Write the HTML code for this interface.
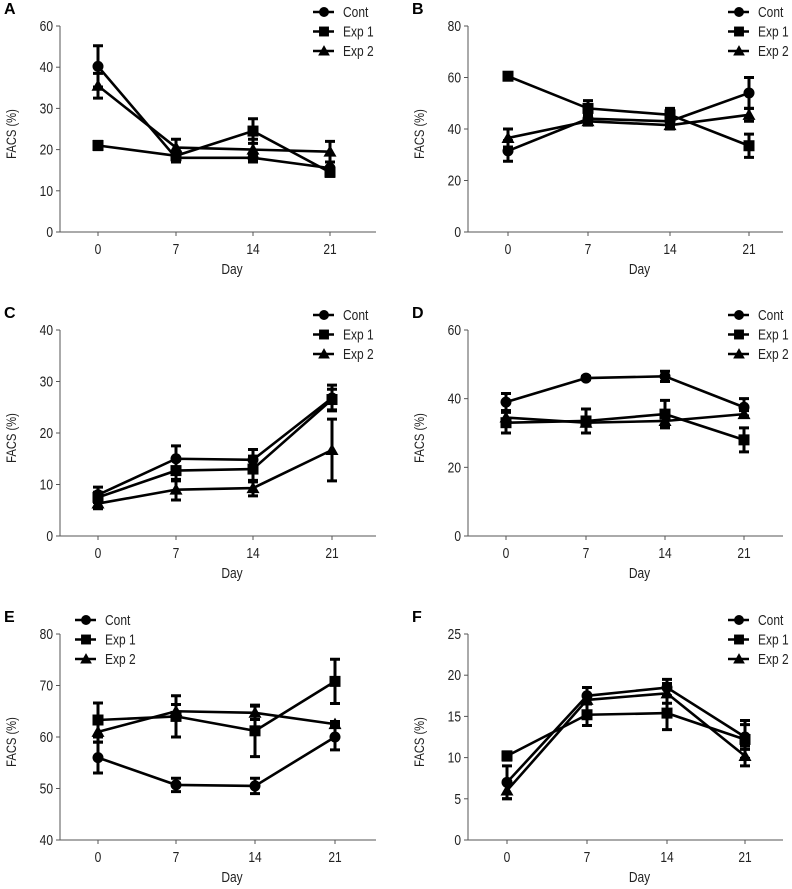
<!DOCTYPE html>
<html><head><meta charset="utf-8">
<style>
html,body{margin:0;padding:0;background:#fff;}
svg{display:block;font-family:"Liberation Sans",sans-serif;}
</style></head>
<body>
<svg id="fig" width="792" height="889" viewBox="0 0 792 889" xmlns="http://www.w3.org/2000/svg"></svg>
<script>
const days = ["0","7","14","21"];
const seriesNames = ["Cont","Exp 1","Exp 2"];

const aCont = [40.2,18,18,15.5], aContErr = [5,1,1,1.5];
const aExp1 = [21,18.5,24.5,14.5], aExp1Err = [1,1,3,1];
const aExp2 = [35.5,20.5,20,19.5], aExp2Err = [3,2,2.5,2.5];

const bCont = [31.5,44,43,54], bContErr = [4,2,2,6];
const bExp1 = [60.5,48,45.5,33.5], bExp1Err = [0.5,3,2.5,4.5];
const bExp2 = [36.5,43,41.5,45.5], bExp2Err = [3.5,1.5,1.5,2.5];

const cCont = [8,15,14.8,26.8], cContErr = [1.5,2.5,2,2.5];
const cExp1 = [7.5,12.7,13,26.5], cExp1Err = [1,2,2.5,2];
const cExp2 = [6.3,9,9.3,16.7], cExp2Err = [1,2,1.5,6];

const dCont = [39,46,46.5,37.5], dContErr = [2.5,0.5,1.5,2.5];
const dExp1 = [33,33.5,35.5,28], dExp1Err = [3,3.5,4,3.5];
const dExp2 = [34.5,33,33.5,35.5], dExp2Err = [2,1,1.5,1];

const eCont = [56,50.7,50.5,60], eContErr = [3,1.3,1.5,2.5];
const eExp1 = [63.3,64,61.2,70.8], eExp1Err = [3.3,4,5,4.3];
const eExp2 = [61,65,64.7,62.5], eExp2Err = [2,1.3,1.3,0.5];

const fCont = [7,17.5,18.5,12.5], fContErr = [2,1,1,1.5];
const fExp1 = [10.2,15.2,15.4,12.2], fExp1Err = [0.5,1.3,2,2.3];
const fExp2 = [6,17,17.8,10.2], fExp2Err = [1,1.5,1.2,1.2];

const yTicksA = [0,10,20,30,40,50];
const yTickLabelsA = ["0","10","20","30","40","60"];
const yTicksB = [0,20,40,60,80];
const yTicksC = [0,10,20,30,40];
const yTicksD = [0,20,40,60];
const yTicksE = [40,50,60,70,80];
const yTicksF = [0,5,10,15,20,25];

const NS = "http://www.w3.org/2000/svg";
const svg = document.getElementById('fig');
function mk(tag, attrs, parent){
  const e = document.createElementNS(NS, tag);
  for (const k in attrs) e.setAttribute(k, attrs[k]);
  (parent||svg).appendChild(e);
  return e;
}
function txt(parent, x, y, s, size, anchor, rot){
  const t = mk('text',{x:0,y:0,'font-size':size,'text-anchor':anchor||'start',fill:'#222',
    transform:`translate(${x},${y})${rot?' rotate(-90)':''} scale(0.8,1)`},parent);
  t.textContent = s;
  return t;
}

const panels = [
 {id:"a",label:"A",ax:60,top:26,bot:232,right:376,xs:[98,176,253,330],ymin:0,ymax:50,ticks:yTicksA,tlabels:yTickLabelsA,
  data:[[aCont,aContErr],[aExp1,aExp1Err],[aExp2,aExp2Err]],leg:{x:313,y:12}},
 {id:"b",label:"B",ax:468,top:26,bot:232,right:783,xs:[508,588,670,749],ymin:0,ymax:80,ticks:yTicksB,
  data:[[bCont,bContErr],[bExp1,bExp1Err],[bExp2,bExp2Err]],leg:{x:728,y:12}},
 {id:"c",label:"C",ax:60,top:330,bot:536,right:376,xs:[98,176,253,332],ymin:0,ymax:40,ticks:yTicksC,
  data:[[cCont,cContErr],[cExp1,cExp1Err],[cExp2,cExp2Err]],leg:{x:313,y:315}},
 {id:"d",label:"D",ax:468,top:330,bot:536,right:783,xs:[506,586,665,744],ymin:0,ymax:60,ticks:yTicksD,
  data:[[dCont,dContErr],[dExp1,dExp1Err],[dExp2,dExp2Err]],leg:{x:728,y:315}},
 {id:"e",label:"E",ax:60,top:634,bot:840,right:376,xs:[98,176,255,335],ymin:40,ymax:80,ticks:yTicksE,
  data:[[eCont,eContErr],[eExp1,eExp1Err],[eExp2,eExp2Err]],leg:{x:75,y:620}},
 {id:"f",label:"F",ax:468,top:634,bot:840,right:783,xs:[507,587,667,745],ymin:0,ymax:25,ticks:yTicksF,
  data:[[fCont,fContErr],[fExp1,fExp1Err],[fExp2,fExp2Err]],leg:{x:728,y:620}}
];

function marker(g, kind, x, y, s){
  let m;
  if (kind===0) m = mk('circle',{cx:x,cy:y,r:s*0.55,fill:'#000'},g);
  else if (kind===1) m = mk('rect',{x:x-s*0.55,y:y-s*0.55,width:s*1.1,height:s*1.1,fill:'#000'},g);
  else m = mk('polygon',{points:`${x},${y-s*0.65} ${x+s*0.65},${y+s*0.5} ${x-s*0.65},${y+s*0.5}`,fill:'#000'},g);
  return m;
}

panels.forEach(p=>{
  const g = mk('g',{});
  
  
  const ys = v => p.bot - (v-p.ymin)/(p.ymax-p.ymin)*(p.bot-p.top);
  const lab = mk('text',{x:p.ax-56,y:p.top-12,'font-size':16,'font-weight':'bold'},g);
  lab.textContent = p.label;
  
  
  const ya = mk('line',{x1:p.ax,y1:p.top,x2:p.ax,y2:p.bot,stroke:'#555','stroke-width':1},g);
  
  
  const xa = mk('line',{x1:p.ax,y1:p.bot,x2:p.right,y2:p.bot,stroke:'#555','stroke-width':1},g);
  
  
  p.ticks.forEach((t,i)=>{
    const y = ys(t);
    mk('line',{x1:p.ax-4,y1:y,x2:p.ax,y2:y,stroke:'#555','stroke-width':1},g);
    const tt = txt(g, p.ax-7, y+5, p.tlabels ? p.tlabels[i] : String(t), 15, 'end');
    
    
  });
  days.forEach((d,i)=>{
    const x = p.xs[i];
    mk('line',{x1:x,y1:p.bot,x2:x,y2:p.bot+4,stroke:'#555','stroke-width':1},g);
    const tt = txt(g, x, p.bot+22, d, 15, 'middle');
    
    
  });
  const xt = txt(g, (p.ax+p.right)/2+14, p.bot+42, "Day", 15, 'middle');
  
  
  const cy = (p.top+p.bot)/2+5;
  const yt = txt(g, p.ax-44, cy, "FACS (%)", 14, 'middle', true);
  
  

  p.data.forEach((sd,si)=>{
    const vals = sd[0], errs = sd[1];
    const sg = mk('g',{},g);
    
    
    const pts = vals.map((v,i)=>p.xs[i]+','+ys(v)).join(' ');
    const pl = mk('polyline',{points:pts,fill:'none',stroke:'#000','stroke-width':2.6},sg);
    
    
    vals.forEach((v,i)=>{
      const x = p.xs[i], hi = ys(v+errs[i]), lo = ys(v-errs[i]);
      const eb = mk('path',{d:`M${x},${hi}L${x},${lo}M${x-5},${hi}L${x+5},${hi}M${x-5},${lo}L${x+5},${lo}`,stroke:'#000','stroke-width':3,fill:'none'},sg);
      
      
      const m = marker(sg, si, x, ys(v), 10);
      
      
    });
  });

  seriesNames.forEach((n,si)=>{
    const y = p.leg.y + si*19.5;
    const lg = mk('g',{},g);
    
    
    mk('line',{x1:p.leg.x,y1:y,x2:p.leg.x+21,y2:y,stroke:'#000','stroke-width':2.6},lg);
    marker(lg, si, p.leg.x+11, y, 9);
    txt(lg, p.leg.x+30, y+5, n, 15, 'start');
  });
});
</script>
</body></html>
